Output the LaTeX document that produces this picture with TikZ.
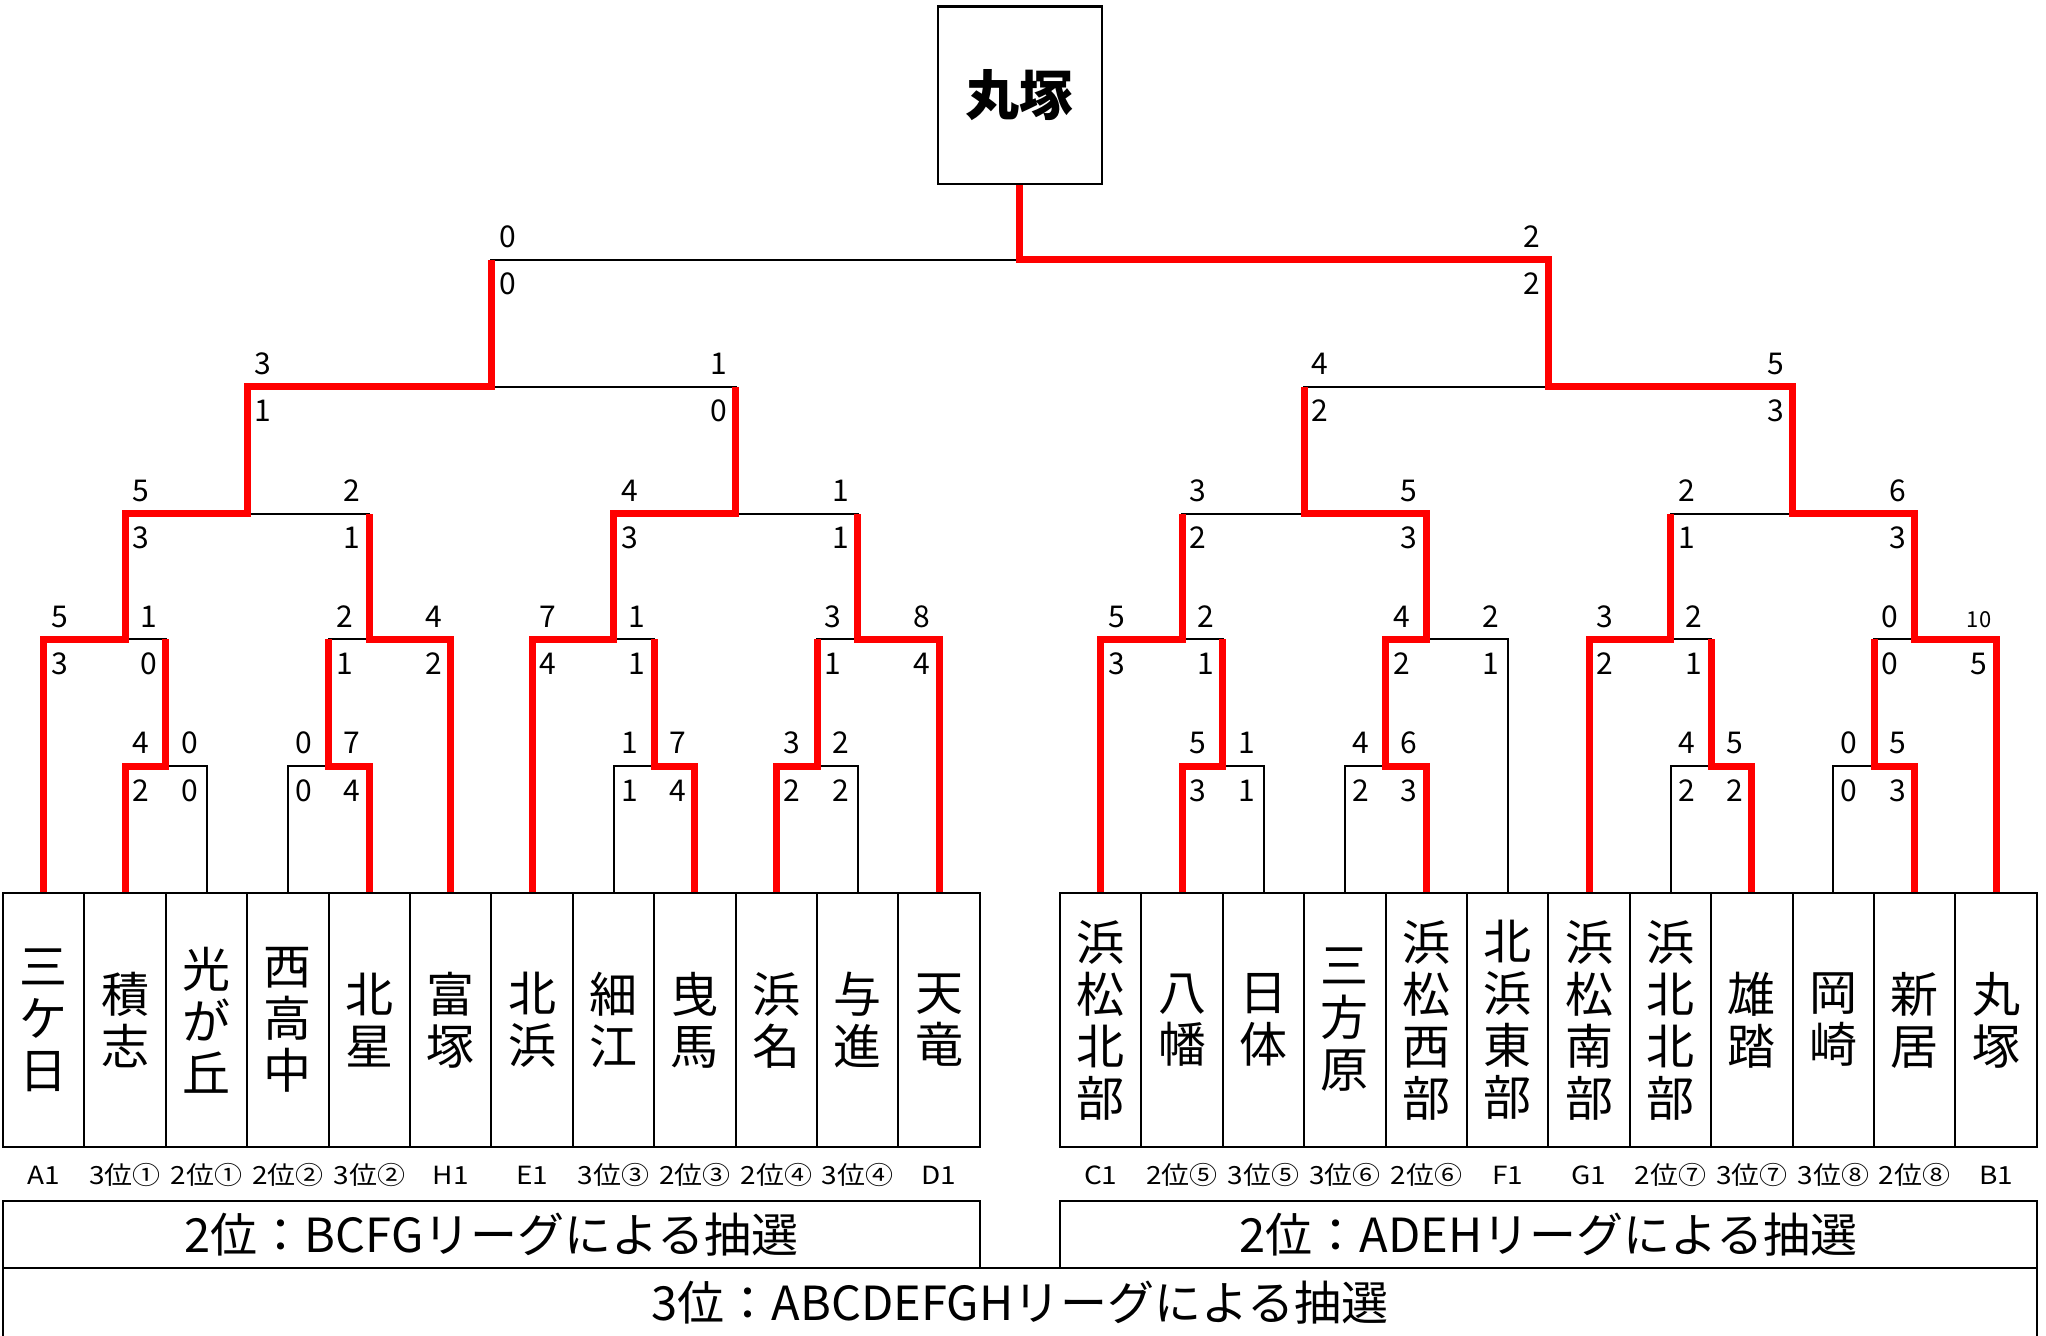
\documentclass[tikz,border=0pt]{standalone}
\usepackage{fontspec}
\setmainfont{Noto Sans CJK JP}
\newfontfamily\tagfont[FakeStretch=1.12]{Noto Sans CJK JP}
\usetikzlibrary{calc}

\tikzset{
  bracket/.style={black, line width=1pt},
  winpath/.style={red, line width=3.5pt},
  teambox/.style={draw, line width=1pt, minimum width=40.7pt, minimum height=127pt, inner sep=0pt, align=center, font=\fontsize{24}{26}\selectfont},
  score/.style={anchor=base, inner sep=0pt, font=\fontsize{15}{15}\selectfont},
  tagtext/.style={inner sep=0pt, font=\tagfont\fontsize{12.5}{13}\selectfont},
  drawbox/.style={draw, line width=1pt, inner sep=0pt, font=\fontsize{23.5}{24}\selectfont},
  champbox/.style={draw, line width=1.1pt, minimum width=81.8pt, minimum height=88.7pt, font=\bfseries\fontsize{27}{27}\selectfont}
}

\newcommand{\bout}[7]{%
  \draw[bracket] (#2) |- (#1) -| (#3);
  \node[score] (#1la) at ($(#2 |- #1)+(16,-12)$) {#4};
  \node[score] (#1lb) at ($(#2 |- #1)+(16,35)$) {#5};
  \node[score] (#1ra) at ($(#3 |- #1)+(-17,-12)$) {#6};
  \node[score] (#1rb) at ($(#3 |- #1)+(-17,35)$) {#7};
}

\begin{document}
\begin{tikzpicture}[x=0.5pt, y=-0.5pt]
\useasboundingbox (0,0) rectangle (2046,1336);

\foreach \name/\lab [count=\i] in {三\\ケ\\日/A1, 積\\志/3位①, 光\\が\\丘/2位①, 西\\高\\中/2位②, 北\\星/3位②, 富\\塚/H1, 北\\浜/E1, 細\\江/3位③, 曳\\馬/2位③, 浜\\名/2位④, 与\\進/3位④, 天\\竜/D1} {
  \node[teambox] (b\i) at ({81.4*\i-37.7},1020) {\name};
  \node[tagtext] (g\i) at ({81.4*\i-37.7},1175) {\lab};
  \coordinate (t\i) at (b\i.north);
}
\foreach \name/\lab [count=\i from 13] in {浜\\松\\北\\部/C1, 八\\幡/2位⑤, 日\\体/3位⑤, 三\\方\\原/3位⑥, 浜\\松\\西\\部/2位⑥, 北\\浜\\東\\部/F1, 浜\\松\\南\\部/G1, 浜\\北\\北\\部/2位⑦, 雄\\踏/3位⑦, 岡\\崎/3位⑧, 新\\居/2位⑧, 丸\\塚/B1} {
  \node[teambox] (b\i) at ({81.4*\i+42.5},1020) {\name};
  \node[tagtext] (g\i) at ({81.4*\i+42.5},1175) {\lab};
  \coordinate (t\i) at (b\i.north);
}

\coordinate (y5) at (0,766);
\coordinate (y4) at (0,639.5);
\coordinate (y3) at (0,514);
\coordinate (y2) at (0,387);
\coordinate (y1) at (0,260);
\coordinate (ytop) at (0,95.3);

\foreach \m/\a/\b in {m1/2/3, m2/4/5, m3/8/9, m4/10/11, m5/14/15, m6/16/17, m7/20/21, m8/22/23}
  \coordinate (\m) at ($(t\a |- y5)!.5!(t\b |- y5)$);
\foreach \m/\a in {mA/2, mB/5, mC/8, mD/11, mE/14, mF/17, mG/20, mH/23}
  \coordinate (\m) at (t\a |- y4);
\foreach \m/\a/\b in {mAB/mA/mB, mCD/mC/mD, mEF/mE/mF, mGH/mG/mH}
  \coordinate (\m) at ($(\a |- y3)!.5!(\b |- y3)$);
\foreach \m/\a/\b in {mL/mAB/mCD, mR/mEF/mGH}
  \coordinate (\m) at ($(\a |- y2)!.5!(\b |- y2)$);
\coordinate (fin) at ($(mL |- y1)!.5!(mR |- y1)$);

\foreach \m/\a/\b/\p/\q/\r/\s in {m1/t2/t3/4/2/0/0, m2/t4/t5/0/0/7/4, m3/t8/t9/1/1/7/4, m4/t10/t11/3/2/2/2,
    m5/t14/t15/5/3/1/1, m6/t16/t17/4/2/6/3, m7/t20/t21/4/2/5/2, m8/t22/t23/0/0/5/3,
    mA/t1/m1/5/3/1/0, mB/m2/t6/2/1/4/2, mC/t7/m3/7/4/1/1, mD/m4/t12/3/1/8/4,
    mE/t13/m5/5/3/2/1, mF/m6/t18/4/2/2/1, mG/t19/m7/3/2/2/1,
    mAB/mA/mB/5/3/2/1, mCD/mC/mD/4/3/1/1, mEF/mE/mF/3/2/5/3, mGH/mG/mH/2/1/6/3,
    mL/mAB/mCD/3/1/1/0, mR/mEF/mGH/4/2/5/3, fin/mL/mR/0/0/2/2}
  \bout{\m}{\a}{\b}{\p}{\q}{\r}{\s};
\bout{mH}{m8}{t24}{0}{0}{\fontsize{11}{11}\selectfont 10}{5}

\node[champbox] (champ) at (fin |- ytop) {丸塚};

\draw[winpath] (t1) |- (mA) |- (mAB) |- (mL) -- (mL |- fin);
\draw[winpath] (t2) |- (m1) -- (m1 |- mA);
\draw[winpath] (t5) |- (m2) -- (m2 |- mB);
\draw[winpath] (t6) |- (mB) -- (mB |- mAB);
\draw[winpath] (t7) |- (mC) |- (mCD) -- (mCD |- mL);
\draw[winpath] (t9) |- (m3) -- (m3 |- mC);
\draw[winpath] (t10) |- (m4) -- (m4 |- mD);
\draw[winpath] (t12) |- (mD) -- (mD |- mCD);
\draw[winpath] (t13) |- (mE) -- (mE |- mEF);
\draw[winpath] (t14) |- (m5) -- (m5 |- mE);
\draw[winpath] (t17) |- (m6) |- (mF) |- (mEF) -- (mEF |- mR);
\draw[winpath] (t19) |- (mG) -- (mG |- mGH);
\draw[winpath] (t21) |- (m7) -- (m7 |- mG);
\draw[winpath] (t23) |- (m8) -- (m8 |- mH);
\draw[winpath] (t24) |- (mH) |- (mGH) |- (mR) |- (fin) -- (champ.south);

\node[drawbox, minimum width=488.4pt, minimum height=33.5pt] (draw2l) at (491.4,1234.5) {2位：BCFGリーグによる抽選};
\node[drawbox, minimum width=488.4pt, minimum height=33.5pt] (draw2r) at (1548.4,1234.5) {2位：ADEHリーグによる抽選};
\node[drawbox, minimum width=1016.9pt, minimum height=35pt] (draw3) at (1019.9,1303) {3位：ABCDEFGHリーグによる抽選};
\end{tikzpicture}
\end{document}
